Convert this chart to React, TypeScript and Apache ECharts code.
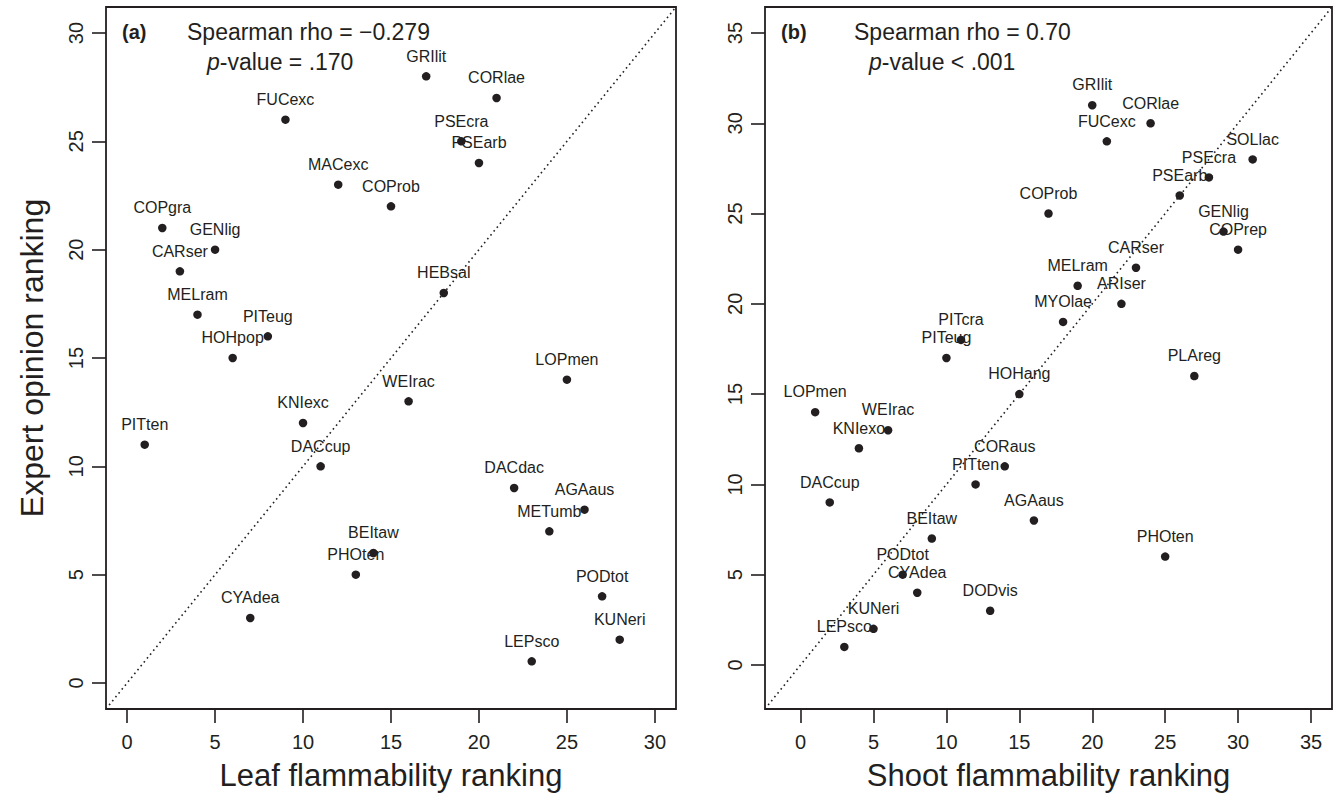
import React, { useEffect, useRef } from "react";
import * as echarts from "echarts";

// Panel (a): leaf flammability vs expert opinion
const leafNames = ["GRIlit","CORlae","FUCexc","PSEcra","PSEarb","MACexc","COProb","COPgra","GENlig","CARser","HEBsal","MELram","PITeug","HOHpop","LOPmen","WEIrac","KNIexc","PITten","DACcup","DACdac","AGAaus","METumb","BEItaw","PHOten","PODtot","CYAdea","KUNeri","LEPsco"];
const leafRank = [17,21,9,19,20,12,15,2,5,3,18,4,8,6,25,16,10,1,11,22,26,24,14,13,27,7,28,23];
const leafExpert = [28,27,26,25,24,23,22,21,20,19,18,17,16,15,14,13,12,11,10,9,8,7,6,5,4,3,2,1];

// Panel (b): shoot flammability vs expert opinion
const shootNames = ["GRIlit","CORlae","FUCexc","SOLlac","PSEcra","PSEarb","COProb","GENlig","COPrep","CARser","MELram","ARIser","MYOlae","PITcra","PITeug","PLAreg","HOHang","LOPmen","WEIrac","KNIexo","CORaus","PITten","DACcup","AGAaus","BEItaw","PHOten","PODtot","CYAdea","DODvis","KUNeri","LEPsco"];
const shootRank = [20,24,21,31,28,26,17,29,30,23,19,22,18,11,10,27,15,1,6,4,14,12,2,16,9,25,7,8,13,5,3];
const shootExpert = [31,30,29,28,27,26,25,24,23,22,21,20,19,18,17,16,15,14,13,12,11,10,9,8,7,6,5,4,3,2,1];

const ticksA = [0, 5, 10, 15, 20, 25, 30];
const ticksB = [0, 5, 10, 15, 20, 25, 30, 35];
const rangeA = [-1.2, 31.2];
const rangeB = [-2.44, 36.44];

const xTitleA = "Leaf flammability ranking";
const xTitleB = "Shoot flammability ranking";
const yTitle = "Expert opinion ranking";
const rhoA = "Spearman rho = \u22120.279";
const pA = " = .170";
const rhoB = "Spearman rho = 0.70";
const pB = " < .001";

const FONT = "'Liberation Sans', Arial, Helvetica, sans-serif";
const INK = "#231f20";

function makeAxis(gridIndex: number, range: number[], ticks: number[], name: string, isY: boolean) {
  return {
    type: "value",
    gridIndex,
    position: isY ? "left" : "bottom",
    min: range[0],
    max: range[1],
    name,
    nameLocation: "middle",
    nameGap: isY ? 58 : 51,
    nameTextStyle: { fontFamily: FONT, fontSize: isY ? 32 : 31, color: INK },
    axisLine: { show: false, onZero: false },
    splitLine: { show: false },
    axisTick: {
      show: true,
      inside: false,
      length: 14,
      customValues: ticks,
      lineStyle: { color: INK, width: 1.6 },
    },
    axisLabel: {
      show: true,
      customValues: ticks,
      margin: isY ? 20 : 23,
      rotate: isY ? 90 : 0,
      fontFamily: FONT,
      fontSize: 20,
      color: INK,
    },
  };
}

function pointsSeries(idx: number, names: string[], xs: number[], ys: number[]) {
  return {
    type: "scatter",
    xAxisIndex: idx,
    yAxisIndex: idx,
    symbol: "circle",
    symbolSize: 8.5,
    itemStyle: { color: INK, opacity: 1 },
    label: {
      show: true,
      position: "top",
      distance: 8,
      formatter: "{b}",
      fontFamily: FONT,
      fontSize: 16,
      color: INK,
    },
    labelLayout: { hideOverlap: false },
    data: names.map((n, i) => ({ name: n, value: [xs[i], ys[i]] })),
    z: 3,
  };
}

function diagSeries(idx: number, range: number[]) {
  return {
    type: "line",
    xAxisIndex: idx,
    yAxisIndex: idx,
    symbol: "none",
    silent: true,
    lineStyle: { color: INK, width: 1.6, type: [1.6, 3.4] },
    data: [
      [range[0], range[0]],
      [range[1], range[1]],
    ],
    z: 2,
  };
}

export default function App() {
  const ref = useRef<HTMLDivElement>(null);
  useEffect(() => {
    if (!ref.current) return;
    const chart = echarts.init(ref.current, undefined, { renderer: "svg" });
    const pStyle = {
      rich: {
        it: { fontFamily: FONT, fontSize: 23, fontStyle: "italic", fill: INK },
        n: { fontFamily: FONT, fontSize: 23, fill: INK },
      },
    };
    chart.setOption({
      animation: false,
      backgroundColor: "#ffffff",
      grid: [
        { left: 106, top: 7, width: 570, height: 702, outerBoundsMode: "none", containLabel: false, show: true, borderColor: INK, borderWidth: 1.8, backgroundColor: "transparent" },
        { left: 765, top: 7, width: 567, height: 702, outerBoundsMode: "none", containLabel: false, show: true, borderColor: INK, borderWidth: 1.8, backgroundColor: "transparent" },
      ],
      xAxis: [
        makeAxis(0, rangeA, ticksA, xTitleA, false),
        makeAxis(1, rangeB, ticksB, xTitleB, false),
      ],
      yAxis: [
        makeAxis(0, rangeA, ticksA, yTitle, true),
        makeAxis(1, rangeB, ticksB, "", true),
      ],
      series: [
        diagSeries(0, rangeA),
        pointsSeries(0, leafNames, leafRank, leafExpert),
        diagSeries(1, rangeB),
        pointsSeries(1, shootNames, shootRank, shootExpert),
      ],
      graphic: [
        { type: "text", left: 122, top: 22, style: { text: "(a)", fontFamily: FONT, fontSize: 20, fontWeight: "bold", fill: INK } },
        { type: "text", left: 187, top: 20, style: { text: rhoA, fontFamily: FONT, fontSize: 23, fill: INK } },
        { type: "text", left: 207, top: 50, style: { text: "{it|p}{n|-value" + pA + "}", fontFamily: FONT, fontSize: 23, fill: INK, ...pStyle } },
        { type: "text", left: 781, top: 22, style: { text: "(b)", fontFamily: FONT, fontSize: 20, fontWeight: "bold", fill: INK } },
        { type: "text", left: 854, top: 20, style: { text: rhoB, fontFamily: FONT, fontSize: 23, fill: INK } },
        { type: "text", left: 869, top: 50, style: { text: "{it|p}{n|-value" + pB + "}", fontFamily: FONT, fontSize: 23, fill: INK, ...pStyle } },
      ],
    });
    return () => chart.dispose();
  }, []);
  return (
    <div
      ref={ref}
      style={{ position: "absolute", left: 0, top: 0, width: 1336, height: 796, background: "#fff" }}
    />
  );
}
